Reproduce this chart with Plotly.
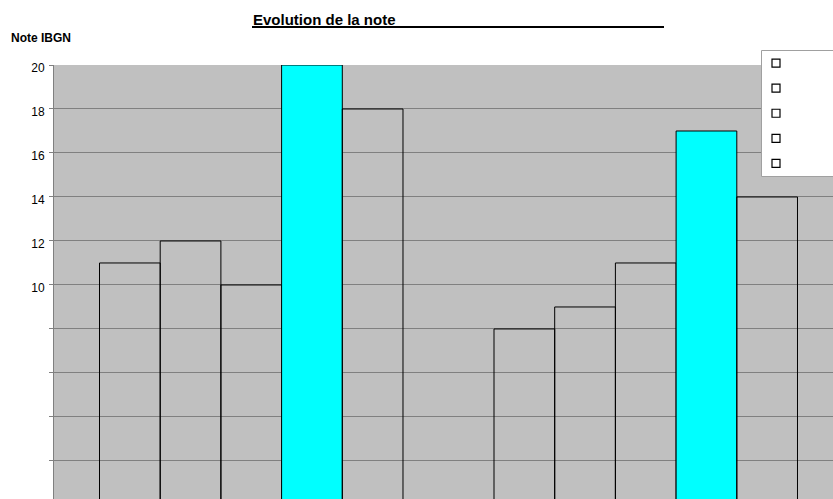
import plotly.graph_objects as go

categories = ["Station 1", "Station 2"]
series_names = ["S1", "S2", "S3", "S4", "S5"]
series_values = [
    [11, 8],
    [12, 9],
    [10, 11],
    [20, 17],
    [18, 14],
]
series_colors = ["rgba(0,0,0,0)", "rgba(0,0,0,0)", "rgba(0,0,0,0)", "#00FFFF", "rgba(0,0,0,0)"]
tick_vals = [2, 4, 6, 8, 10, 12, 14, 16, 18, 20]
tick_text = ["", "", "", "", "10", "12", "14", "16", "18", "20"]

W, H = 833, 499
L, T, R, B = 54, 65, 0, 0
pw, ph = W - L - R, H - T - B

def px(x):
    return (x - L) / pw

def py(y):
    return (H - B - y) / ph

fig = go.Figure()
for name, vals, col in zip(series_names, series_values, series_colors):
    fig.add_trace(go.Bar(
        x=categories, y=vals, name=name, showlegend=False,
        marker=dict(color=col, line=dict(color="black", width=1)),
    ))
for name in series_names:
    fig.add_trace(go.Scatter(
        x=[None], y=[None], mode="markers", name=" ",
        marker=dict(symbol="square", size=8, color="white", line=dict(color="black", width=1.2)),
    ))

fig.update_layout(
    width=W, height=H,
    margin=dict(l=L, r=R, t=T, b=B, pad=0),
    paper_bgcolor="white",
    plot_bgcolor="#C0C0C0",
    barmode="group",
    bargap=0.2307,
    bargroupgap=0,
    font=dict(family="Liberation Sans, Arial, sans-serif", color="black", size=11),
    showlegend=True,
    legend=dict(
        x=px(756), y=py(45.5), xanchor="left", yanchor="top",
        bgcolor="rgba(0,0,0,0)", borderwidth=0,
        font=dict(size=17), itemwidth=30,
    ),
    xaxis=dict(
        range=[-0.5, 1.5 - 10 / 394.5], showticklabels=False, showgrid=False,
        zeroline=False, showline=False, ticks="",
    ),
    yaxis=dict(
        range=[0.27, 20], tickvals=tick_vals, ticktext=tick_text,
        showgrid=True, gridcolor="#808080", gridwidth=1,
        zeroline=False, showline=True, linecolor="#808080", linewidth=1,
        ticks="outside", ticklen=4, tickcolor="#808080",
        tickfont=dict(size=12), ticklabelshift=3, ticklabelstandoff=2,
    ),
    annotations=[
        dict(text="<b>Evolution de la note</b>", xref="paper", yref="paper",
             x=px(251), y=py(19.5), xanchor="left", yanchor="middle",
             showarrow=False, font=dict(size=15)),
        dict(text="<b>Note IBGN</b>", xref="paper", yref="paper",
             x=px(9), y=py(38), xanchor="left", yanchor="middle",
             showarrow=False, font=dict(size=12)),
    ],
    shapes=[
        dict(type="line", xref="paper", yref="paper",
             x0=px(252), x1=px(664), y0=py(27), y1=py(27),
             line=dict(color="black", width=2)),
        dict(type="rect", xref="paper", yref="paper", layer="above",
             x0=px(761.5), x1=px(845), y0=py(50.5), y1=py(176.5),
             fillcolor="white", line=dict(color="#A0A0A0", width=1)),
    ],
)

fig.write_html("out.html")
